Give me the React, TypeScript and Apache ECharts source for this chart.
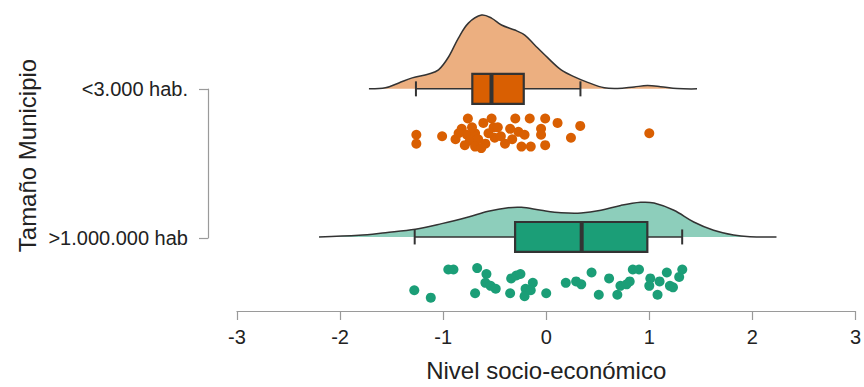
import React, { useEffect, useRef } from "react";
import * as echarts from "echarts";

const groups = ["<3.000 hab.", ">1.000.000 hab"];
const groupPos = [2, 1];
const strongColors = ["#D95F02", "#1B9E77"];
const lightColors = ["#ECAF80", "#8DCEBB"];

// density curves (x value, height in y units above baseline)
const density1X = [-1.72, -1.56, -1.43, -1.3, -1.14, -1.045, -0.948, -0.852, -0.755, -0.627, -0.531, -0.434, -0.305, -0.208, -0.112, 0.016, 0.145, 0.274, 0.402, 0.563, 0.692, 0.853, 0.981, 1.109, 1.27, 1.463];
const density1H = [0, 0.007, 0.04, 0.074, 0.1, 0.128, 0.215, 0.343, 0.444, 0.498, 0.478, 0.431, 0.397, 0.363, 0.296, 0.209, 0.128, 0.081, 0.044, 0.007, 0.002, 0.013, 0.022, 0.015, 0.002, 0];
const density2X = [-2.204, -1.817, -1.559, -1.269, -1.013, -0.755, -0.562, -0.369, -0.241, -0.048, 0.145, 0.338, 0.531, 0.723, 0.916, 1.046, 1.239, 1.431, 1.624, 1.817, 1.977, 2.234];
const density2H = [0, 0.011, 0.029, 0.052, 0.09, 0.135, 0.173, 0.197, 0.2, 0.18, 0.164, 0.162, 0.18, 0.213, 0.234, 0.229, 0.18, 0.101, 0.045, 0.013, 0.002, 0];

// box stats: low whisker, Q1, median, Q3, high whisker
const box1 = [-1.264, -0.717, -0.531, -0.218, 0.332];
const box2 = [-1.276, -0.302, 0.344, 0.981, 1.319];

// jittered points
const points1X = [-1.26, -1.26, -1.01, -0.88, -0.82, -0.76, -0.77, -0.74, -0.79, -0.69, -0.66, -0.61, -0.53, -0.51, -0.59, -0.69, -0.47, -0.5, -0.4, -0.35, -0.3, -0.27, -0.21, -0.24, -0.16, -0.15, -0.01, -0.05, -0.05, -0.01, 0.11, 0.24, 0.33, 1.0, -0.85, -0.72, -0.56, -0.44, -0.63, -0.33];
const points1Y = [1.69, 1.63, 1.68, 1.66, 1.73, 1.8, 1.69, 1.65, 1.62, 1.7, 1.66, 1.77, 1.8, 1.74, 1.63, 1.61, 1.74, 1.67, 1.63, 1.73, 1.8, 1.71, 1.69, 1.61, 1.8, 1.61, 1.8, 1.73, 1.69, 1.62, 1.77, 1.67, 1.75, 1.7, 1.7, 1.74, 1.7, 1.68, 1.6, 1.66];
const points2X = [-1.28, -1.12, -0.95, -0.9, -0.67, -0.58, -0.59, -0.54, -0.49, -0.69, -0.34, -0.29, -0.25, -0.35, -0.2, -0.21, -0.13, -0.15, 0.0, 0.19, 0.29, 0.34, 0.44, 0.61, 0.51, 0.72, 0.81, 0.69, 0.84, 0.9, 1.01, 1.0, 1.1, 1.08, 1.17, 1.2, 1.29, 1.32, 1.23, 0.78];
const points2Y = [0.64, 0.59, 0.78, 0.78, 0.79, 0.75, 0.69, 0.67, 0.65, 0.62, 0.72, 0.74, 0.75, 0.62, 0.65, 0.6, 0.69, 0.64, 0.62, 0.69, 0.7, 0.68, 0.76, 0.72, 0.61, 0.67, 0.7, 0.61, 0.78, 0.78, 0.72, 0.67, 0.7, 0.61, 0.76, 0.67, 0.73, 0.78, 0.66, 0.68];

const densX = [density1X, density2X];
const densH = [density1H, density2H];
const boxes = [box1, box2];
const ptsX = [points1X, points2X];
const ptsY = [points1Y, points2Y];

const FONT = "Liberation Sans, Arial, Helvetica, sans-serif";
const EDGE = "#333333";
const BOX_HALF = 0.101;

export default function App() {
  const ref = useRef<HTMLDivElement>(null);
  useEffect(() => {
    document.body.style.margin = "0";
    if (!ref.current) return;
    const chart = echarts.init(ref.current, undefined, { renderer: "svg" });

    const densitySeries = [0, 1].map((g) => ({
      type: "custom",
      xAxisIndex: 0,
      yAxisIndex: 0,
      z: 1,
      silent: true,
      data: [[densX[g][0], groupPos[g]]],
      renderItem: (_params: any, api: any) => {
        const base = groupPos[g];
        const curve = densX[g].map((x, i) => api.coord([x, base + densH[g][i]]));
        return {
          type: "polyline",
          shape: { points: curve, smooth: 0.35 },
          style: { fill: lightColors[g], stroke: EDGE, lineWidth: 1.5 },
        };
      },
    }));

    const boxSeries = [0, 1].map((g) => ({
      type: "custom",
      xAxisIndex: 0,
      yAxisIndex: 0,
      z: 2,
      silent: true,
      data: [[boxes[g][2], groupPos[g]]],
      renderItem: (_params: any, api: any) => {
        const [lo, q1, med, q3, hi] = boxes[g];
        const y = groupPos[g];
        const pLo = api.coord([lo, y]);
        const pHi = api.coord([hi, y]);
        const tl = api.coord([q1, y + BOX_HALF]);
        const br = api.coord([q3, y - BOX_HALF]);
        const mTop = api.coord([med, y + BOX_HALF]);
        const mBot = api.coord([med, y - BOX_HALF]);
        return {
          type: "group",
          children: [
            { type: "line", shape: { x1: pLo[0], y1: pLo[1], x2: pHi[0], y2: pHi[1] }, style: { stroke: EDGE, lineWidth: 1.5 } },
            { type: "line", shape: { x1: pLo[0], y1: pLo[1] - 7.5, x2: pLo[0], y2: pLo[1] + 7.5 }, style: { stroke: EDGE, lineWidth: 2 } },
            { type: "line", shape: { x1: pHi[0], y1: pHi[1] - 7.5, x2: pHi[0], y2: pHi[1] + 7.5 }, style: { stroke: EDGE, lineWidth: 2 } },
            { type: "rect", shape: { x: tl[0], y: tl[1], width: br[0] - tl[0], height: br[1] - tl[1] }, style: { fill: strongColors[g], stroke: EDGE, lineWidth: 2.2 } },
            { type: "line", shape: { x1: mTop[0], y1: mTop[1], x2: mBot[0], y2: mBot[1] }, style: { stroke: EDGE, lineWidth: 4 } },
          ],
        };
      },
    }));

    const pointSeries = [0, 1].map((g) => ({
      type: "scatter",
      xAxisIndex: 0,
      yAxisIndex: 0,
      z: 3,
      silent: true,
      symbol: "circle",
      symbolSize: 10,
      itemStyle: { color: strongColors[g], opacity: 1 },
      data: ptsX[g].map((x, i) => [x, ptsY[g][i]]),
    }));

    chart.setOption({
      animation: false,
      textStyle: { fontFamily: FONT },
      grid: [
        { left: 237, right: 5, top: 0, bottom: 75 },
        { left: 208, width: 1, top: 89, height: 149 },
      ],
      xAxis: [
        {
          type: "value",
          gridIndex: 0,
          min: -3,
          max: 3,
          interval: 1,
          axisLine: { show: true, lineStyle: { color: "#9a9a9a", width: 1.2 } },
          axisTick: { show: true, length: 9, lineStyle: { color: "#9a9a9a", width: 1.2 } },
          axisLabel: { fontSize: 20, color: "#222", margin: 16, fontFamily: FONT },
          splitLine: { show: false },
          name: "Nivel socio-económico",
          nameLocation: "middle",
          nameGap: 47,
          nameTextStyle: { fontSize: 24, color: "#222", fontFamily: FONT },
        },
        { type: "value", gridIndex: 1, show: false, min: 0, max: 1 },
      ],
      yAxis: [
        {
          type: "value",
          gridIndex: 0,
          min: 0.5,
          max: 2.6,
          axisLine: { show: false },
          axisTick: { show: false },
          axisLabel: { show: false },
          splitLine: { show: false },
          name: "Tamaño Municipio",
          nameLocation: "middle",
          nameRotate: 90,
          nameGap: 198,
          nameTextStyle: { fontSize: 24, color: "#222", fontFamily: FONT },
        },
        {
          type: "value",
          gridIndex: 1,
          min: 1,
          max: 2,
          interval: 1,
          axisLine: { show: true, lineStyle: { color: "#9a9a9a", width: 1.2 } },
          axisTick: { show: true, length: 9, lineStyle: { color: "#9a9a9a", width: 1.2 } },
          axisLabel: {
            fontSize: 20,
            color: "#222",
            margin: 20,
            fontFamily: FONT,
            formatter: (v: number) => {
              const idx = groupPos.indexOf(v);
              return idx >= 0 ? groups[idx] : "";
            },
          },
          splitLine: { show: false },
        },
      ],
      series: [...densitySeries, ...boxSeries, ...pointSeries],
    });

    return () => chart.dispose();
  }, []);

  return <div ref={ref} style={{ width: 864, height: 387 }} />;
}
